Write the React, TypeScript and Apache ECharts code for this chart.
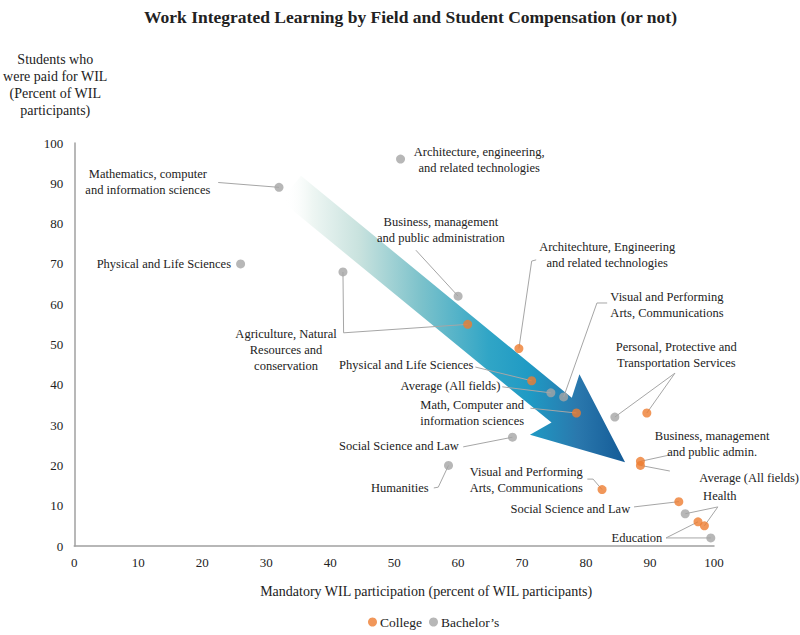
import React, { useEffect, useRef } from 'react';
import * as echarts from 'echarts';

// Bachelor's programs: mandatory WIL share (x) vs paid share (y)
const bachelorFields = [
  'Mathematics, computer and information sciences',
  'Physical and Life Sciences',
  'Architecture, engineering, and related technologies',
  'Agriculture, Natural Resources and conservation',
  'Business, management and public administration',
  'Visual and Performing Arts, Communications',
  'Average (All fields)',
  'Personal, Protective and Transportation Services',
  'Social Science and Law',
  'Humanities',
  'Health',
  'Education'
];
const bachelorMandatory = [32, 26, 51, 42, 60, 76.5, 74.5, 84.5, 68.5, 58.5, 95.5, 99.5];
const bachelorPaid = [89, 70, 96, 68, 62, 37, 38, 32, 27, 20, 8, 2];

// College programs
const collegeFields = [
  'Agriculture, Natural Resources and conservation',
  'Architechture, Engineering and related technologies',
  'Physical and Life Sciences',
  'Math, Computer and information sciences',
  'Personal, Protective and Transportation Services',
  'Business, management and public admin.',
  'Average (All fields)',
  'Visual and Performing Arts, Communications',
  'Social Science and Law',
  'Education',
  'Health'
];
const collegeMandatory = [61.5, 69.5, 71.5, 78.5, 89.5, 88.5, 88.5, 82.5, 94.5, 97.5, 98.5];
const collegePaid = [55, 49, 41, 33, 33, 21, 20, 14, 11, 6, 5];

const xTicks = [0, 100, 10];
const yTicks = [0, 100, 10];

// annotation texts, anchored in data units
const notes: Array<{ text: string; at: number[]; align: string }> = [
  { text: 'Mathematics, computer\nand information sciences', at: [11.5, 90.2], align: 'center' },
  { text: 'Physical and Life Sciences', at: [24.5, 70], align: 'right' },
  { text: 'Architecture, engineering,\nand related technologies', at: [63.3, 95.9], align: 'center' },
  { text: 'Business, management\nand public administration', at: [57.3, 78.3], align: 'center' },
  { text: 'Agriculture, Natural\nResources and\nconservation', at: [33.1, 48.6], align: 'center' },
  { text: 'Architechture, Engineering\nand related technologies', at: [83.3, 72.1], align: 'center' },
  { text: 'Visual and Performing\nArts, Communications', at: [83.8, 59.8], align: 'left' },
  { text: 'Personal, Protective and\nTransportation Services', at: [94.1, 47.3], align: 'center' },
  { text: 'Physical and Life Sciences', at: [62.4, 44.9], align: 'right' },
  { text: 'Average (All fields)', at: [66.6, 39.7], align: 'right' },
  { text: 'Math, Computer and\ninformation sciences', at: [62.2, 33], align: 'center' },
  { text: 'Social Science and Law', at: [60.1, 24.8], align: 'right' },
  { text: 'Humanities', at: [55.4, 14.4], align: 'right' },
  { text: 'Visual and Performing\nArts, Communications', at: [61.8, 16.5], align: 'left' },
  { text: 'Business, management\nand public admin.', at: [99.7, 25.4], align: 'center' },
  { text: 'Average (All fields)', at: [97.7, 16.9], align: 'left' },
  { text: 'Health', at: [98.3, 12.4], align: 'left' },
  { text: 'Social Science and Law', at: [86.9, 9.2], align: 'right' },
  { text: 'Education', at: [91.9, 2], align: 'right' }
];

// leader lines: data-unit elbows, or [series, field] references
type Ref = number[] | [string, string];
const leaders: Ref[][] = [
  [[22.5, 90.2], ['b', 'Mathematics, computer and information sciences']],
  [[53.4, 73.4], ['b', 'Business, management and public administration']],
  [['b', 'Agriculture, Natural Resources and conservation'], [42.1, 52.9], ['c', 'Agriculture, Natural Resources and conservation']],
  [[72.2, 71], [71.5, 70.7], ['c', 'Architechture, Engineering and related technologies']],
  [[83.3, 60.3], [81.7, 60.3], ['b', 'Visual and Performing Arts, Communications']],
  [[93.9, 42.9], ['b', 'Personal, Protective and Transportation Services']],
  [[93.9, 42.9], ['c', 'Personal, Protective and Transportation Services']],
  [[62.7, 44.4], ['c', 'Physical and Life Sciences']],
  [[66.9, 39.5], ['b', 'Average (All fields)']],
  [[71.3, 34.2], ['c', 'Math, Computer and information sciences']],
  [[60.8, 24.6], ['b', 'Social Science and Law']],
  [[56.2, 14.4], [56.9, 14.6], ['b', 'Humanities']],
  [[80.2, 16.6], [81.1, 16.6], ['c', 'Visual and Performing Arts, Communications']],
  [[93.1, 22.6], ['c', 'Business, management and public admin.']],
  [[93.1, 18.6], ['c', 'Average (All fields)']],
  [[100.6, 9.7], ['b', 'Health']],
  [[100.6, 9.7], ['c', 'Health']],
  [[87.5, 9.7], ['c', 'Social Science and Law']],
  [[92.5, 2], ['c', 'Education']],
  [[92.5, 2], ['b', 'Education']]
];

const arrowFrom = [33.85, 88.8];
const arrowTo = [86.1, 20.8];

const FONT = 'Liberation Serif';

export const App: React.FC = () => {
  const chartRef = useRef<HTMLDivElement>(null);

  useEffect(() => {
    if (!chartRef.current) return;
    document.body.style.margin = '0';
    const chart = echarts.init(chartRef.current, null, { renderer: 'svg' });

    const option: echarts.EChartsOption = {
      animation: false,
      textStyle: { fontFamily: FONT, color: '#222' },
      title: {
        text: 'Work Integrated Learning by Field and Student Compensation (or not)',
        left: 139,
        top: 3,
        textStyle: { fontFamily: FONT, fontSize: 17.5, fontWeight: 'bold', color: '#222' }
      },
      legend: {
        data: ['College', 'Bachelor’s'],
        left: 368,
        top: 615,
        icon: 'circle',
        itemWidth: 9,
        itemHeight: 9,
        itemGap: 7,
        padding: 0,
        textStyle: { fontFamily: FONT, fontSize: 13.5, color: '#222', padding: [0, 0, 0, -2] }
      },
      grid: { left: 73, right: 86, top: 143, bottom: 89 },
      xAxis: {
        type: 'value',
        min: xTicks[0],
        max: xTicks[1],
        interval: xTicks[2],
        name: 'Mandatory WIL participation (percent of WIL participants)',
        nameLocation: 'middle',
        nameGap: 38,
        nameTextStyle: { fontFamily: FONT, fontSize: 14, color: '#222', padding: [0, 0, 0, 64] },
        axisLine: { lineStyle: { color: '#a0a0a0', width: 1.5 } },
        axisTick: { show: false },
        splitLine: { show: false },
        axisLabel: { fontFamily: FONT, fontSize: 13, color: '#222', margin: 10 }
      },
      yAxis: {
        type: 'value',
        min: yTicks[0],
        max: yTicks[1],
        interval: yTicks[2],
        name: 'Students who\nwere paid for WIL\n(Percent of WIL\nparticipants)',
        nameLocation: 'end',
        nameGap: 24,
        nameTextStyle: {
          fontFamily: FONT,
          fontSize: 14,
          color: '#222',
          align: 'center',
          verticalAlign: 'bottom',
          lineHeight: 17,
          padding: [0, 38, 0, 0]
        },
        axisLine: { show: true, lineStyle: { color: '#a0a0a0', width: 1.5 } },
        axisTick: { show: false },
        splitLine: { show: false },
        axisLabel: { fontFamily: FONT, fontSize: 13, color: '#222', margin: 11 }
      },
      series: [
        {
          name: 'College',
          type: 'scatter',
          symbolSize: 9,
          itemStyle: { color: '#ed7d31' },
          data: collegeMandatory.map((x, i) => ({ name: collegeFields[i], value: [x, collegePaid[i]] }))
        },
        {
          name: 'Bachelor’s',
          type: 'scatter',
          symbolSize: 9,
          itemStyle: { color: '#a5a5a5' },
          data: bachelorMandatory.map((x, i) => ({ name: bachelorFields[i], value: [x, bachelorPaid[i]] }))
        }
      ]
    };

    chart.setOption(option);

    const px = (p: number[]) => chart.convertToPixel({ gridIndex: 0 }, p) as number[];
    const resolve = (r: Ref): number[] => {
      if (typeof r[0] === 'string') {
        const [s, name] = r as [string, string];
        if (s === 'b') {
          const i = bachelorFields.indexOf(name);
          return px([bachelorMandatory[i], bachelorPaid[i]]);
        }
        const i = collegeFields.indexOf(name);
        return px([collegeMandatory[i], collegePaid[i]]);
      }
      return px(r as number[]);
    };

    // gradient arrow
    const t = px(arrowFrom);
    const p = px(arrowTo);
    const dx = p[0] - t[0];
    const dy = p[1] - t[1];
    const len = Math.sqrt(dx * dx + dy * dy);
    const u = [dx / len, dy / len];
    const n = [u[1], -u[0]];
    const at = (s: number, o: number) => [t[0] + u[0] * s + n[0] * o, t[1] + u[1] * s + n[1] * o];
    const shaftW = 16;
    const notchS = len - 82;
    const wingS = len - 91;
    const wingW = 39;
    const arrowPts = [
      at(0, shaftW), at(notchS, shaftW), at(wingS, wingW), at(len, 0),
      at(wingS, -wingW), at(notchS, -shaftW), at(0, -shaftW)
    ];
    const gx0 = t[0] - 6;
    const gx1 = p[0];

    const graphic: any[] = [
      {
        type: 'polygon',
        silent: true,
        z: 0,
        shape: { points: arrowPts },
        style: {
          fill: new echarts.graphic.LinearGradient(gx0, 0, gx1, 0, [
            { offset: 0, color: 'rgba(255,255,255,0)' },
            { offset: 0.08, color: '#eef6f3' },
            { offset: 0.22, color: '#c8e2de' },
            { offset: 0.4, color: '#7cc2cb' },
            { offset: 0.6, color: '#30a5c6' },
            { offset: 0.72, color: '#1f9ac4' },
            { offset: 0.86, color: '#2a78ad' },
            { offset: 1, color: '#145b97' }
          ], true)
        }
      },
      ...leaders.map((l) => ({
        type: 'polyline',
        silent: true,
        z: 1,
        shape: { points: l.map(resolve) },
        style: { stroke: '#a6a6a6', lineWidth: 1, fill: null }
      })),
      ...notes.map((nt) => {
        const q = px(nt.at);
        return {
          type: 'text',
          silent: true,
          z: 3,
          x: q[0],
          y: q[1],
          style: {
            text: nt.text,
            align: nt.align,
            verticalAlign: 'middle',
            font: '12.5px ' + FONT,
            lineHeight: 16,
            fill: '#222'
          }
        };
      })
    ];

    chart.setOption({ graphic });

    return () => {
      chart.dispose();
    };
  }, []);

  return <div ref={chartRef} style={{ width: '800px', height: '635px' }} />;
};

export default App;
